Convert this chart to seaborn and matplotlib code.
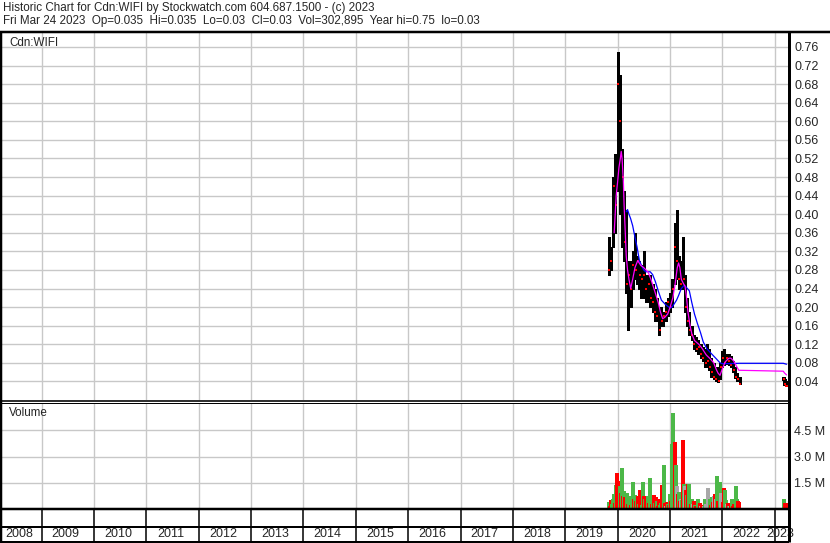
import numpy as np
import pandas as pd
import matplotlib
matplotlib.use("Agg")
import matplotlib.pyplot as plt
import matplotlib.dates as mdates
from matplotlib.lines import Line2D
import seaborn as sns

sns.set_theme(style="white")
plt.rcParams['font.family'] = ['Liberation Sans', 'DejaVu Sans']

# ---- data ----
# half-month price bars, Nov 2019 .. May 2022 (1st and 15th of each month)
bar_dates = pd.date_range("2019-11-01", "2022-05-01", freq="SMS")
bar_hi = [0.35, 0.33, 0.48, 0.53,
          0.75, 0.70, 0.54, 0.45, 0.41, 0.30, 0.30, 0.32, 0.36, 0.31, 0.30, 0.29,
          0.32, 0.27, 0.27, 0.27, 0.25, 0.24, 0.22, 0.20, 0.20, 0.19, 0.21, 0.22,
          0.23, 0.26, 0.38, 0.41, 0.31, 0.30, 0.35, 0.27, 0.22, 0.19, 0.16, 0.14,
          0.135, 0.13, 0.12, 0.115, 0.11, 0.12, 0.11, 0.09, 0.08, 0.07, 0.07, 0.08,
          0.105, 0.11, 0.10, 0.10, 0.095, 0.085, 0.07, 0.058, 0.05]
bar_lo = [0.27, 0.28, 0.33, 0.36,
          0.45, 0.40, 0.33, 0.30, 0.23, 0.15, 0.20, 0.24, 0.26, 0.25, 0.24, 0.22,
          0.22, 0.21, 0.21, 0.20, 0.19, 0.17, 0.17, 0.14, 0.16, 0.16, 0.17, 0.18,
          0.19, 0.20, 0.25, 0.26, 0.24, 0.24, 0.24, 0.19, 0.16, 0.14, 0.13, 0.11,
          0.105, 0.10, 0.09, 0.085, 0.07, 0.07, 0.065, 0.05, 0.045, 0.04, 0.038, 0.045,
          0.07, 0.075, 0.078, 0.075, 0.07, 0.06, 0.048, 0.04, 0.035]
bar_cl = [0.28, 0.30, 0.46, 0.42,
          0.68, 0.60, 0.48, 0.34, 0.25, 0.27, 0.24, 0.29, 0.28, 0.30, 0.27, 0.26,
          0.27, 0.24, 0.25, 0.22, 0.21, 0.19, 0.18, 0.15, 0.17, 0.18, 0.19, 0.21,
          0.20, 0.24, 0.33, 0.30, 0.26, 0.25, 0.26, 0.20, 0.17, 0.15, 0.14, 0.12,
          0.11, 0.115, 0.10, 0.09, 0.08, 0.085, 0.07, 0.06, 0.05, 0.045, 0.04, 0.07,
          0.09, 0.08, 0.09, 0.085, 0.075, 0.065, 0.05, 0.045, 0.035]
# trading resumed in March 2023
bar23_dates = pd.to_datetime(["2023-03-03", "2023-03-10", "2023-03-17", "2023-03-24"])
bar23_hi = [0.05, 0.045, 0.04, 0.035]
bar23_lo = [0.04, 0.03, 0.03, 0.03]
bar23_cl = [0.045, 0.035, 0.03, 0.03]

# short moving average (magenta)
ma_s_dates = pd.to_datetime([
    "2019-12-08", "2019-12-15", "2019-12-22", "2020-01-01", "2020-01-10", "2020-01-20",
    "2020-01-26", "2020-02-01", "2020-02-10", "2020-02-15", "2020-02-22", "2020-03-01",
    "2020-03-10", "2020-03-20", "2020-04-01", "2020-04-15", "2020-05-01", "2020-05-20",
    "2020-06-10", "2020-07-01", "2020-08-01", "2020-08-20", "2020-09-15", "2020-10-10",
    "2020-10-25", "2020-11-10", "2020-11-25", "2020-12-15", "2021-01-01", "2021-01-20",
    "2021-02-05", "2021-02-20", "2021-03-01", "2021-03-10", "2021-03-20", "2021-04-05",
    "2021-04-15", "2021-04-25", "2021-05-05", "2021-05-20", "2021-06-01", "2021-06-20",
    "2021-07-20", "2021-08-10", "2021-09-10", "2021-10-10", "2021-11-01", "2021-11-20",
    "2021-12-01", "2021-12-15", "2022-01-01", "2022-01-20", "2022-02-15", "2022-03-01",
    "2022-03-20", "2022-04-10", "2022-04-25", "2023-03-01", "2023-03-10", "2023-03-24"])
ma_s = [0.36, 0.40, 0.44, 0.47, 0.50, 0.52,
        0.535, 0.52, 0.47, 0.42, 0.37, 0.31,
        0.28, 0.26, 0.24, 0.26, 0.285, 0.30,
        0.29, 0.285, 0.275, 0.26, 0.235, 0.21,
        0.19, 0.175, 0.178, 0.185, 0.20, 0.22,
        0.25, 0.285, 0.295, 0.285, 0.26, 0.25,
        0.245, 0.222, 0.19, 0.16, 0.143, 0.128,
        0.12, 0.112, 0.097, 0.088, 0.08, 0.065,
        0.058, 0.053, 0.068, 0.082, 0.09, 0.09,
        0.084, 0.072, 0.064, 0.062, 0.058, 0.054]

# long moving average (blue)
ma_l_dates = pd.to_datetime([
    "2020-03-01", "2020-03-10", "2020-03-20", "2020-04-01", "2020-04-15", "2020-05-01",
    "2020-05-15", "2020-06-01", "2020-06-15", "2020-07-01", "2020-07-15", "2020-08-15",
    "2020-09-01", "2020-09-20", "2020-10-10", "2020-11-01", "2020-12-01", "2021-01-01",
    "2021-01-15", "2021-02-15", "2021-03-01", "2021-03-20", "2021-04-10", "2021-05-01",
    "2021-05-15", "2021-06-01", "2021-06-20", "2021-07-10", "2021-08-01", "2021-08-20",
    "2021-09-15", "2021-10-15", "2021-11-15", "2021-12-15", "2022-01-01", "2022-05-01",
    "2023-03-01", "2023-03-24"])
ma_l = [0.405, 0.41, 0.40, 0.39, 0.375, 0.35,
        0.33, 0.30, 0.29, 0.28, 0.276, 0.276,
        0.27, 0.255, 0.235, 0.215, 0.205, 0.198,
        0.20, 0.215, 0.225, 0.24, 0.247, 0.24,
        0.235, 0.21, 0.185, 0.165, 0.145, 0.125,
        0.11, 0.10, 0.09, 0.08, 0.078, 0.079,
        0.079, 0.077]

# weekly volume (millions), g = up, r = down, n = unchanged
vol_dates = pd.date_range("2019-11-01", periods=131, freq="7D")
vol_m = [0.42, 0.20, 0.54, 0.30, 0.60, 0.87, 0.35, 1.40, 2.05, 1.60,
         1.35, 1.29, 0.90, 2.37, 0.73, 1.05, 0.69, 0.40, 0.89, 0.30,
         0.60, 0.75, 0.25, 0.45, 1.54, 0.60, 0.81, 0.45, 0.55, 0.75,
         0.30, 1.06, 0.40, 0.25, 1.54, 0.77, 0.60, 0.58, 0.40, 0.75,
         0.35, 1.77, 0.40, 0.30, 0.58, 0.81, 0.35, 0.69, 0.45, 0.20,
         0.58, 0.25, 0.35, 1.35, 0.50, 2.50, 0.35, 0.20, 0.40, 0.30,
         0.25, 0.85, 0.45, 3.75, 5.48, 3.50, 3.85, 2.50, 1.33, 0.87,
         1.00, 0.45, 0.60, 0.50, 3.94, 1.41, 1.33, 1.06, 0.80, 1.46,
         1.41, 0.50, 0.30, 0.58, 0.30, 0.45, 0.25, 0.20, 0.15, 0.58,
         0.30, 0.35, 0.20, 0.25, 0.20, 0.15, 0.58, 0.30, 0.20, 1.21,
         0.45, 0.58, 0.25, 0.71, 0.40, 0.75, 0.87, 0.60, 1.87, 0.45,
         0.30, 1.52, 0.90, 0.71, 0.40, 1.21, 1.10, 0.50, 0.30, 0.35,
         0.20, 0.15, 0.35, 0.58, 0.20, 0.30, 0.20, 1.33, 0.60, 0.48,
         0.40]
vol_dir = ("grrgggrgrr" "rgrgrgrrgr" "ggrggrgrgr" "grrggrgrrg"
           "rggrgrgrgr" "rggrrgrnrg" "rgrgggrgnr" "grngrgnrgr"
           "ggrgnrgrrg" "grnrrngnnn" "ngrgrnrngr" "rgnnrrggnr"
           "gnrgrrrggr" "r")
vol23_dates = pd.to_datetime(["2023-03-03", "2023-03-10", "2023-03-17", "2023-03-24"])
vol23_m = [0.58, 0.35, 0.35, 0.30]
vol23_dir = "grrr"

price_ticks = [0.04, 0.08, 0.12, 0.16, 0.20, 0.24, 0.28, 0.32, 0.36, 0.40,
               0.44, 0.48, 0.52, 0.56, 0.60, 0.64, 0.68, 0.72, 0.76]
vol_ticks = [1.5, 3.0, 4.5]
vol_tick_labels = ["1.5 M", "3.0 M", "4.5 M"]
years = list(range(2008, 2024))

header1 = "Historic Chart for Cdn:WIFI by Stockwatch.com 604.687.1500 - (c) 2023"
header2 = ("Fri Mar 24 2023  Op=0.035  Hi=0.035  Lo=0.03  Cl=0.03  "
           "Vol=302,895  Year hi=0.75  lo=0.03")

# ---- layout (pixel based) ----
W, H = 830, 543
fig = plt.figure(figsize=(W / 100, H / 100), dpi=100)


def box(x0, y0, x1, y1):
    return [x0 / W, 1 - y1 / H, (x1 - x0) / W, (y1 - y0) / H]


def pxline(x0, y0, x1, y1, lw):
    fig.add_artist(Line2D([x0 / W, x1 / W], [1 - y0 / H, 1 - y1 / H],
                          transform=fig.transFigure, color="black",
                          linewidth=lw * 0.72, solid_capstyle="butt"))


GRID = "#c8c8c8"
FS = 8.4
xlim = (pd.Timestamp("2008-03-24"), pd.Timestamp("2023-04-10"))
year_starts = [pd.Timestamp(f"{y}-01-01") for y in years[1:]]

ax_p = fig.add_axes(box(1, 33, 789, 400))
ax_v = fig.add_axes(box(1, 402.5, 789, 509))
ax_d = fig.add_axes(box(1, 509, 789, 541))

for ax in (ax_p, ax_v, ax_d):
    ax.set_xlim(*xlim)
    for s in ax.spines.values():
        s.set_visible(False)
    ax.set_facecolor("white")

# price panel
ax_p.set_ylim(0, 0.79)
ax_p.set_xticks(year_starts)
ax_p.set_yticks(price_ticks)
ax_p.grid(True, color=GRID, linewidth=1.0)
ax_p.set_axisbelow(True)
ax_p.yaxis.tick_right()
ax_p.tick_params(axis="y", length=0, pad=3.6, labelsize=9)
ax_p.tick_params(axis="x", length=0, labelbottom=False)
ax_p.set_yticklabels([f"{t:.2f}" for t in price_ticks])

ax_p.vlines(bar_dates, bar_lo, bar_hi, color="black", linewidth=2.0,
            antialiased=False, zorder=2)
ax_p.vlines(bar23_dates, bar23_lo, bar23_hi, color="black", linewidth=1.6,
            antialiased=False, zorder=2)
cl_df = pd.DataFrame({"d": list(bar_dates + pd.Timedelta(days=4)) + list(bar23_dates + pd.Timedelta(days=2)),
                      "c": bar_cl + bar23_cl})
sns.scatterplot(data=cl_df, x="d", y="c", ax=ax_p, color="red", marker="s",
                s=4, linewidth=0, zorder=3)
sns.lineplot(x=ma_l_dates, y=ma_l, ax=ax_p, color="#0000ff", linewidth=0.9,
             estimator=None, sort=False, zorder=4)
sns.lineplot(x=ma_s_dates, y=ma_s, ax=ax_p, color="#ff00ff", linewidth=0.9,
             estimator=None, sort=False, zorder=5)
ax_p.set_xlim(*xlim)
ax_p.set_xlabel("")
ax_p.set_ylabel("")
ax_p.text(8 / 788, 1 - 10 / 367, "Cdn:WIFI", transform=ax_p.transAxes,
          fontsize=FS, va="center", ha="left")

# volume panel
cmap = {"g": "#4cb848", "r": "#ff0000", "n": "#a8a8a8"}
ax_v.set_ylim(0, 6.1)
ax_v.set_xticks(year_starts)
ax_v.set_yticks(vol_ticks)
ax_v.grid(True, color=GRID, linewidth=1.0)
ax_v.set_axisbelow(True)
ax_v.yaxis.tick_right()
ax_v.tick_params(axis="y", length=0, pad=3.6, labelsize=9)
ax_v.tick_params(axis="x", length=0, labelbottom=False)
ax_v.set_yticklabels(vol_tick_labels)
ax_v.vlines(vol_dates, 0, vol_m, colors=[cmap[c] for c in vol_dir],
            linewidth=1.5, antialiased=False, zorder=2)
ax_v.vlines(vol23_dates, 0, vol23_m, colors=[cmap[c] for c in vol23_dir],
            linewidth=1.5, antialiased=False, zorder=2)
ax_v.set_xlim(*xlim)
ax_v.text(8 / 788, 1 - 11 / 106.5, "Volume", transform=ax_v.transAxes,
          fontsize=FS, va="center", ha="left")

# date strip
ax_d.set_ylim(0, 1)
ax_d.set_xticks([])
ax_d.set_yticks([])
ax_d.vlines(year_starts, 0, 1, color="black", linewidth=1.1)
xl0, xl1 = mdates.date2num(xlim[0]), mdates.date2num(xlim[1])
two_px = (xl1 - xl0) / 788 * 2
for y in years:
    a = max(mdates.date2num(pd.Timestamp(f"{y}-01-01")), xl0)
    b = min(mdates.date2num(pd.Timestamp(f"{y + 1}-01-01")), xl1)
    ax_d.text((a + b) / 2 - two_px, 0.23, str(y), fontsize=9,
              ha="center", va="center", clip_on=False)

# frame lines
pxline(0, 32, 830, 32, 2.5)
pxline(1, 32, 1, 542, 2.5)
pxline(789, 32, 789, 542, 3)
pxline(0, 400.5, 789, 400.5, 1.6)
pxline(0, 402.5, 789, 402.5, 1.0)
pxline(0, 509, 789, 509, 2.5)
pxline(0, 526.5, 789, 526.5, 2)
pxline(0, 541.5, 789, 541.5, 2)

fig.text(3 / W, 1 - 8 / H, header1, fontsize=FS, va="center", ha="left")
fig.text(3 / W, 1 - 21 / H, header2, fontsize=FS, va="center", ha="left")

fig.savefig("out.png", dpi=100, facecolor="white")
